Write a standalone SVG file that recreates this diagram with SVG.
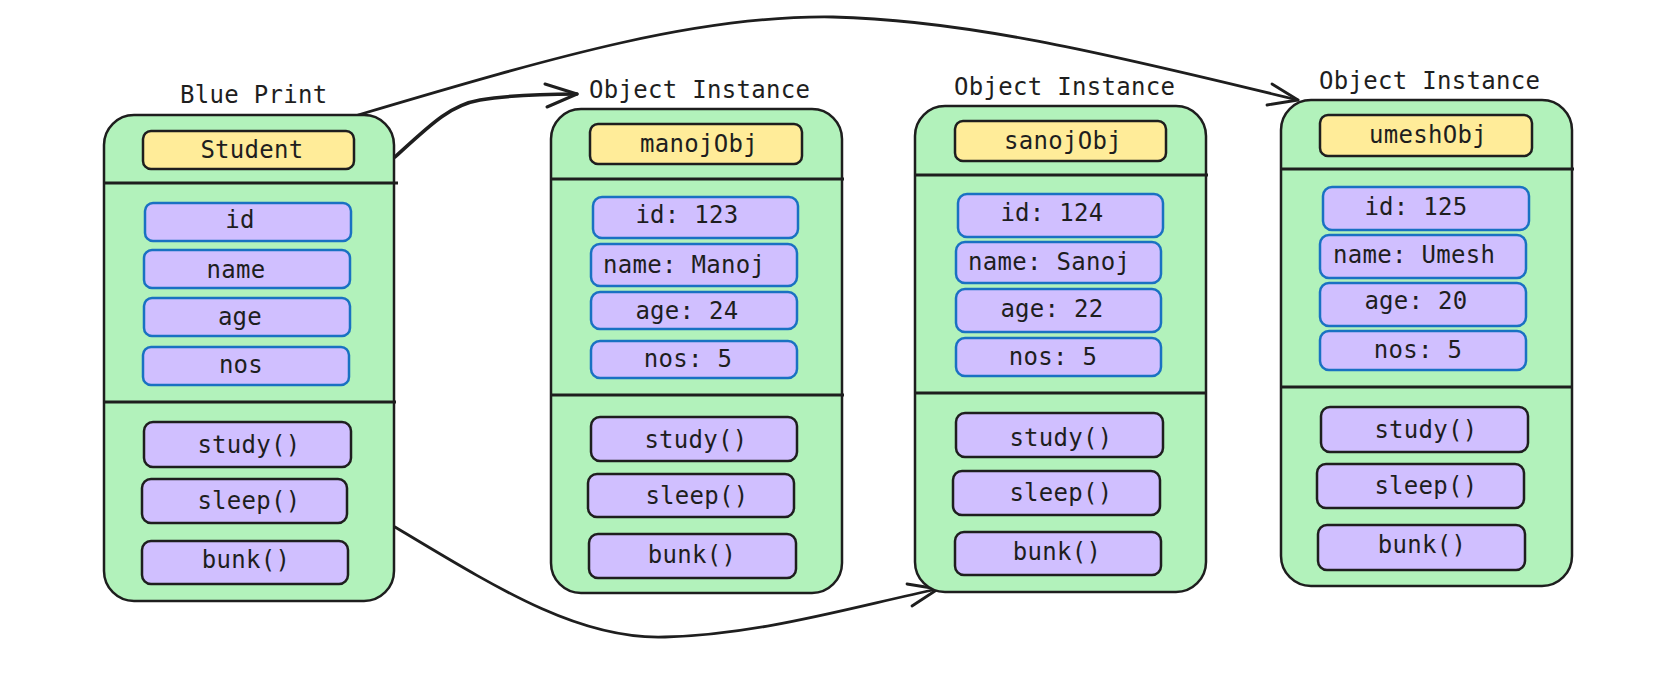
<svg xmlns="http://www.w3.org/2000/svg" width="1668" height="685" viewBox="0 0 1668 685">
<style>
text{font-family:"DejaVu Sans Mono","Liberation Mono",monospace;font-size:24px;letter-spacing:0.3px;fill:#1e1e1e}
.c{text-anchor:middle}
.outer{fill:#b2f2bb;stroke:#1e1e1e;stroke-width:2.5}
.div{stroke:#1e1e1e;stroke-width:3;fill:none}
.hdr{fill:#ffec99;stroke:#1e1e1e;stroke-width:2.5}
.attr{fill:#d0bfff;stroke:#1971c2;stroke-width:2.5}
.meth{fill:#d0bfff;stroke:#1e1e1e;stroke-width:2.5}
.conn{fill:none;stroke:#1e1e1e;stroke-linecap:round;stroke-linejoin:round}
</style>
<rect width="1668" height="685" fill="#ffffff"/>
<g id="connectors">
<path class="conn" stroke-width="2.8" d="M358,115 C560,55 700,15 833,17 C980,20 1150,65 1298,100"/>
<path class="conn" stroke-width="2.8" d="M1272,84 L1298,100 L1267,105"/>
<path class="conn" stroke-width="3.5" d="M395,157 C430,125 450,105 480,100 C510,95 545,94 577,94"/>
<path class="conn" stroke-width="3" d="M545,84 L577,94 L547,107"/>
<path class="conn" stroke-width="2.8" d="M395,527 C500,590 580,640 665,637 C760,635 860,605 938,589"/>
<path class="conn" stroke-width="2.8" d="M907,584 L938,589 L912,606"/>
</g>
<g id="blueprint">
<text x="180" y="103">Blue Print</text>
<rect class="outer" x="104" y="115" width="290" height="486" rx="30"/>
<line class="div" x1="104" y1="183" x2="398" y2="183"/>
<line class="div" x1="104" y1="402" x2="396" y2="402"/>
<rect class="hdr" x="143" y="131" width="211" height="38" rx="8"/>
<text class="c" x="252" y="158">Student</text>
<rect class="attr" x="145" y="203" width="206" height="38" rx="8"/>
<text class="c" x="240" y="228">id</text>
<rect class="attr" x="144" y="250" width="206" height="38" rx="8"/>
<text class="c" x="236" y="278">name</text>
<rect class="attr" x="144" y="298" width="206" height="38" rx="8"/>
<text class="c" x="240" y="325">age</text>
<rect class="attr" x="143" y="347" width="206" height="38" rx="8"/>
<text class="c" x="241" y="373">nos</text>
<rect class="meth" x="144" y="422" width="207" height="45" rx="9"/>
<text class="c" x="249" y="453">study()</text>
<rect class="meth" x="142" y="479" width="205" height="44" rx="9"/>
<text class="c" x="249" y="509">sleep()</text>
<rect class="meth" x="142" y="541" width="206" height="43" rx="9"/>
<text class="c" x="246" y="568">bunk()</text>
</g>
<g id="manojObj">
<text x="589" y="98">Object Instance</text>
<rect class="outer" x="551" y="109" width="291" height="484" rx="30"/>
<line class="div" x1="551" y1="179" x2="844" y2="179"/>
<line class="div" x1="551" y1="395" x2="844" y2="395"/>
<rect class="hdr" x="590" y="124" width="212" height="40" rx="8"/>
<text class="c" x="699" y="152">manojObj</text>
<rect class="attr" x="593" y="197" width="205" height="41" rx="9"/>
<text class="c" x="687" y="223">id: 123</text>
<rect class="attr" x="591" y="244" width="206" height="42" rx="9"/>
<text x="603" y="273">name: Manoj</text>
<rect class="attr" x="591" y="292" width="206" height="37" rx="9"/>
<text class="c" x="687" y="319">age: 24</text>
<rect class="attr" x="591" y="341" width="206" height="37" rx="9"/>
<text class="c" x="688" y="367">nos: 5</text>
<rect class="meth" x="591" y="417" width="206" height="44" rx="9"/>
<text class="c" x="696" y="448">study()</text>
<rect class="meth" x="588" y="474" width="206" height="43" rx="9"/>
<text class="c" x="697" y="504">sleep()</text>
<rect class="meth" x="589" y="534" width="207" height="44" rx="9"/>
<text class="c" x="692" y="563">bunk()</text>
</g>
<g id="sanojObj">
<text x="954" y="95">Object Instance</text>
<rect class="outer" x="915" y="106" width="291" height="486" rx="30"/>
<line class="div" x1="915" y1="175" x2="1208" y2="175"/>
<line class="div" x1="915" y1="393" x2="1206" y2="393"/>
<rect class="hdr" x="955" y="121" width="211" height="40" rx="8"/>
<text class="c" x="1063" y="149">sanojObj</text>
<rect class="attr" x="958" y="194" width="205" height="43" rx="9"/>
<text class="c" x="1052" y="221">id: 124</text>
<rect class="attr" x="956" y="242" width="205" height="41" rx="9"/>
<text x="968" y="270">name: Sanoj</text>
<rect class="attr" x="956" y="289" width="205" height="43" rx="9"/>
<text class="c" x="1052" y="317">age: 22</text>
<rect class="attr" x="956" y="338" width="205" height="38" rx="9"/>
<text class="c" x="1053" y="365">nos: 5</text>
<rect class="meth" x="956" y="413" width="207" height="44" rx="9"/>
<text class="c" x="1061" y="446">study()</text>
<rect class="meth" x="953" y="471" width="207" height="44" rx="9"/>
<text class="c" x="1061" y="501">sleep()</text>
<rect class="meth" x="955" y="532" width="206" height="43" rx="9"/>
<text class="c" x="1057" y="560">bunk()</text>
</g>
<g id="umeshObj">
<text x="1319" y="89">Object Instance</text>
<rect class="outer" x="1281" y="100" width="291" height="486" rx="30"/>
<line class="div" x1="1281" y1="169" x2="1574" y2="169"/>
<line class="div" x1="1281" y1="387" x2="1572" y2="387"/>
<rect class="hdr" x="1320" y="115" width="212" height="41" rx="8"/>
<text class="c" x="1428" y="143">umeshObj</text>
<rect class="attr" x="1323" y="187" width="206" height="43" rx="9"/>
<text class="c" x="1416" y="215">id: 125</text>
<rect class="attr" x="1320" y="235" width="206" height="43" rx="9"/>
<text x="1333" y="263">name: Umesh</text>
<rect class="attr" x="1320" y="283" width="206" height="43" rx="9"/>
<text class="c" x="1416" y="309">age: 20</text>
<rect class="attr" x="1320" y="331" width="206" height="39" rx="9"/>
<text class="c" x="1418" y="358">nos: 5</text>
<rect class="meth" x="1321" y="407" width="207" height="45" rx="9"/>
<text class="c" x="1426" y="438">study()</text>
<rect class="meth" x="1317" y="464" width="207" height="44" rx="9"/>
<text class="c" x="1426" y="494">sleep()</text>
<rect class="meth" x="1318" y="525" width="207" height="45" rx="9"/>
<text class="c" x="1422" y="553">bunk()</text>
</g>
</svg>
